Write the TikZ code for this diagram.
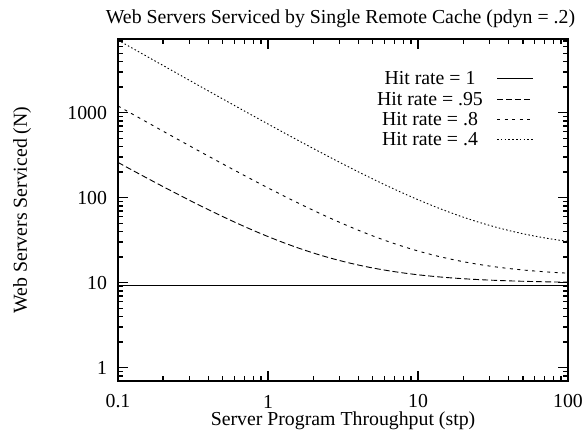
\documentclass[tikz,border=0pt]{standalone}
\usepackage{fontspec}
\setmainfont{Liberation Serif}
\begin{document}
\begin{tikzpicture}[x=1pt,y=1pt,
  font=\fontsize{19.8}{22}\selectfont,
  framestyle/.style={line width=1.5pt, line cap=rect},
  tickstyle/.style={line width=1.3pt},
  curve/.style={line width=0.9pt},
  hone/.style={curve},
  hnine/.style={curve, dash pattern=on 6pt off 3pt},
  height/.style={curve, dash pattern=on 3pt off 4.5pt},
  hfour/.style={curve, dash pattern=on 1.5pt off 2.3pt},
  lbl/.style={inner sep=0pt, outer sep=0pt}]
\useasboundingbox (0,0) rectangle (583,433);
% frame corners
\coordinate (bl) at (118,52);
\coordinate (tr) at (568,394);
% curves, clipped
\begin{scope}
\clip (bl) rectangle (tr);
\foreach \h/\sty in {1/hone, 0.95/hnine, 0.8/height, 0.4/hfour}{
  \draw[\sty] plot[domain=-1:2, samples=150, variable=\t]
    ({118+150*(\t+1)}, {65.3+85*log10((9.4+475*(1-\h)*pow(10,-\t))/\h)});
}
\end{scope}
% ticks x
\foreach \d in {0,1,2}{
  \foreach \m in {2,...,9}{
    \pgfmathsetmacro{\xx}{118+150*(\d+log10(\m))}
    \draw[tickstyle] (\xx,52) -- ++(0,5);
    \draw[tickstyle] (\xx,394) -- ++(0,-5);
  }
}
\foreach \d in {0,1,2,3}{
  \pgfmathsetmacro{\xx}{118+150*\d}
  \draw[tickstyle] (\xx,52) -- ++(0,10);
  \draw[tickstyle] (\xx,394) -- ++(0,-10);
}
% ticks y
\foreach \v in {0.8,0.9,2,3,4,5,6,7,8,9,20,30,40,50,60,70,80,90,200,300,400,500,600,700,800,900,2000,3000,4000,5000,6000,7000}{
  \pgfmathsetmacro{\yy}{65.3+85*log10(\v)}
  \draw[tickstyle] (118,\yy) -- ++(5,0);
  \draw[tickstyle] (568,\yy) -- ++(-5,0);
}
\foreach \e in {0,1,2,3}{
  \pgfmathsetmacro{\yy}{65.3+85*\e}
  \draw[tickstyle] (118,\yy) -- ++(10,0);
  \draw[tickstyle] (568,\yy) -- ++(-10,0);
}
% frame
\draw[framestyle] (bl) rectangle (tr);
% y tick labels
\node[lbl, anchor=east] (y1) at (107,65.3) {1};
\node[lbl, anchor=east] (y10) at (107,150.3) {10};
\node[lbl, anchor=east] (y100) at (107,235.3) {100};
\node[lbl, anchor=east] (y1000) at (107,320.3) {1000};
% x tick labels
\node[lbl] (x01) at (118,31.5) {0.1};
\node[lbl] (x1) at (268,31.5) {1};
\node[lbl] (x10) at (418,31.5) {10};
\node[lbl] (x100) at (568,31.5) {100};
% axis labels and title
\node[lbl, anchor=base] (xlab) at (343,7) {Server Program Throughput (stp)};
\node[lbl, rotate=90] (ylab) at (22,223) {Web Servers Serviced (N)};
\node[lbl, anchor=base] (title) at (340.5,409) {Web Servers Serviced by Single Remote Cache (pdyn = .2)};
% legend
\node[lbl] (k1) at (430,354.5) {Hit rate = 1};
\node[lbl] (k2) at (430,334) {Hit rate = .95};
\node[lbl] (k3) at (430,313.5) {Hit rate = .8};
\node[lbl] (k4) at (430,293.5) {Hit rate = .4};
\coordinate (s1a) at (497,354.5); \coordinate (s1b) at (533,354.5);
\coordinate (s2a) at (497,334);   \coordinate (s2b) at (533,334);
\coordinate (s3a) at (497,313.5); \coordinate (s3b) at (533,313.5);
\coordinate (s4a) at (497,293.5); \coordinate (s4b) at (533,293.5);
\draw[hone] (s1a) -- (s1b);
\draw[hnine] (s2a) -- (s2b);
\draw[height] (s3a) -- (s3b);
\draw[hfour] (s4a) -- (s4b);
\end{tikzpicture}
\end{document}
